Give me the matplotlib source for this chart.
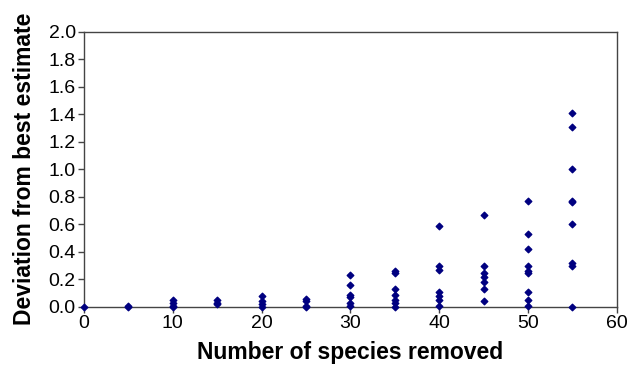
import numpy as np
import matplotlib.pyplot as plt

plt.rcParams['font.family'] = ['Liberation Sans', 'DejaVu Sans']

# species removed -> deviations
removed = [0, 5, 10, 15, 20, 25, 30, 35, 40, 45, 50, 55]
deviation = [
    [0.0],
    [0.01, 0.0],
    [0.05, 0.03, 0.01, 0.0],
    [0.05, 0.03, 0.02],
    [0.08, 0.04, 0.02, 0.0],
    [0.06, 0.04, 0.01, 0.0],
    [0.23, 0.16, 0.09, 0.07, 0.03, 0.01],
    [0.26, 0.25, 0.13, 0.09, 0.05, 0.03, 0.0],
    [0.59, 0.30, 0.27, 0.11, 0.08, 0.05, 0.01],
    [0.67, 0.30, 0.25, 0.22, 0.18, 0.13, 0.04],
    [0.77, 0.53, 0.42, 0.30, 0.26, 0.25, 0.11, 0.05, 0.01],
    [1.41, 1.31, 1.00, 0.77, 0.76, 0.60, 0.32, 0.30, 0.0],
]

xs = []
ys = []
for r, devs in zip(removed, deviation):
    xs += [r] * len(devs)
    ys += devs

fig = plt.figure(figsize=(6.34, 3.67), dpi=100)
ax = fig.add_axes([0.1325, 0.1635, 0.8405, 0.7506])

ax.scatter(xs, ys, marker='D', s=11, color='#000080', zorder=3, clip_on=False)

ax.set_xlim(0, 60)
ax.set_ylim(0, 2.0)
ax.set_xticks(np.arange(0, 61, 10))
ax.set_yticks(np.arange(0, 2.01, 0.2))
ax.set_yticklabels(['%.1f' % v for v in np.arange(0, 2.01, 0.2)])

for s in ax.spines.values():
    s.set_color('#444444')
    s.set_linewidth(1.0)
ax.tick_params(direction='out', length=4, width=1, color='#444444',
               labelsize=14, pad=2)

ax.set_xlabel('Number of species removed', fontsize=16.5, fontweight='bold', labelpad=6)
ax.set_ylabel('Deviation from best estimate', fontsize=16.5, fontweight='bold', labelpad=9)

fig.savefig('out.png', dpi=100)
